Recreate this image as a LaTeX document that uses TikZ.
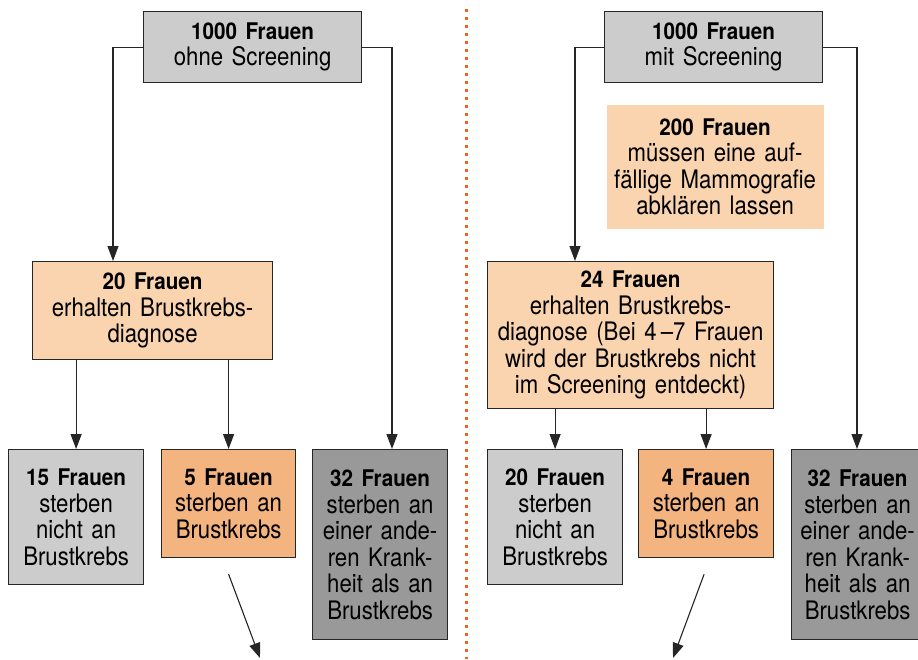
\documentclass[tikz,border=0pt]{standalone}
\usepackage{fontspec}
\setmainfont{TeX Gyre Heros}[FakeStretch=0.87, BoldFeatures={Scale=0.9, FakeStretch=0.9}]
\usetikzlibrary{arrows.meta,calc}
\definecolor{lgray}{RGB}{204,204,204}
\definecolor{dgray}{RGB}{153,153,153}
\definecolor{peach}{RGB}{249,212,175}
\definecolor{orng}{RGB}{243,180,127}
\definecolor{dotc}{RGB}{242,96,24}
\begin{document}
\begin{tikzpicture}[x=1pt,y=-1pt,
 box/.style={draw=black!85, line width=1.2pt, anchor=north west, inner sep=0pt, align=center, font=\fontsize{25.5}{26.5}\selectfont},
 arr/.style={draw=black!85, line width=1.1pt, -{Triangle[length=15pt,width=11pt]}},
 ln/.style={draw=black!85, line width=1pt}]
\clip (0,0) rectangle (918,659);
\fill[white] (0,0) rectangle (918,659);
% left half
\node[box, fill=lgray, text width=218pt, minimum height=71pt] (t1) at (143,11) {\textbf{1000 Frauen}\\ohne Screening};
\node[box, fill=peach, text width=240pt, minimum height=98pt] (d1) at (32,261) {\textbf{20 Frauen}\\erhalten Brustkrebs-\\diagnose};
\node[box, fill=lgray, text width=135pt, minimum height=135pt] (s1) at (8,449) {\textbf{15 Frauen}\\sterben\\nicht an\\Brustkrebs};
\node[box, fill=orng, text width=134pt, minimum height=108pt] (s2) at (161,449) {\textbf{5 Frauen}\\sterben an\\Brustkrebs};
\node[box, fill=dgray, text width=135pt, minimum height=190pt] (o1) at (312,449) {\textbf{32 Frauen}\\sterben an\\einer ande-\\ren Krank-\\heit als an\\Brustkrebs};
% right half
\node[box, fill=lgray, text width=218pt, minimum height=71pt] (t2) at (604,11) {\textbf{1000 Frauen}\\mit Screening};
\node[box, draw=none, fill=peach, text width=217pt, minimum height=124pt] (m2) at (606,104) {\textbf{200 Frauen}\\müssen eine auf-\\fällige Mammografie\\abklären lassen};
\node[box, fill=peach, text width=286pt, minimum height=147pt] (d2) at (487,261) {\textbf{24 Frauen}\\erhalten Brustkrebs-\\diagnose (Bei 4\,–7 Frauen\\wird der Brustkrebs nicht\\im Screening entdeckt)};
\node[box, fill=lgray, text width=135pt, minimum height=135pt] (s3) at (487,449) {\textbf{20 Frauen}\\sterben\\nicht an\\Brustkrebs};
\node[box, fill=orng, text width=135pt, minimum height=108pt] (s4) at (638,449) {\textbf{4 Frauen}\\sterben an\\Brustkrebs};
\node[box, fill=dgray, text width=132pt, minimum height=190pt] (o2) at (791,449) {\textbf{32 Frauen}\\sterben an\\einer ande-\\ren Krank-\\heit als an\\Brustkrebs};
% connectors left
\draw[arr] (t1.west) -| ([xshift=81pt]d1.north west);
\draw[arr] (t1.east) -| ([xshift=80pt]o1.north west);
\draw[arr] (s1.north |- d1.south) -- (s1.north);
\draw[arr] (s2.north |- d1.south) -- (s2.north);
\coordinate (e1) at (260,658);
\draw[arr] ($(s2.south)+(0,16)$) -- (e1);
% connectors right
\draw[arr] (t2.west) -| ([xshift=88pt]d2.north west);
\draw[arr] (t2.east) -| ([xshift=66pt]o2.north west);
\draw[arr] (s3.north |- d2.south) -- (s3.north);
\draw[arr] (s4.north |- d2.south) -- (s4.north);
\coordinate (e2) at (673,658);
\draw[arr] ($(s4.south)+(-2,16)$) -- (e2);
% divider
\draw[dotc, line width=3pt, dash pattern=on 3pt off 5pt] (466,9) -- (466,659);
\end{tikzpicture}
\end{document}
